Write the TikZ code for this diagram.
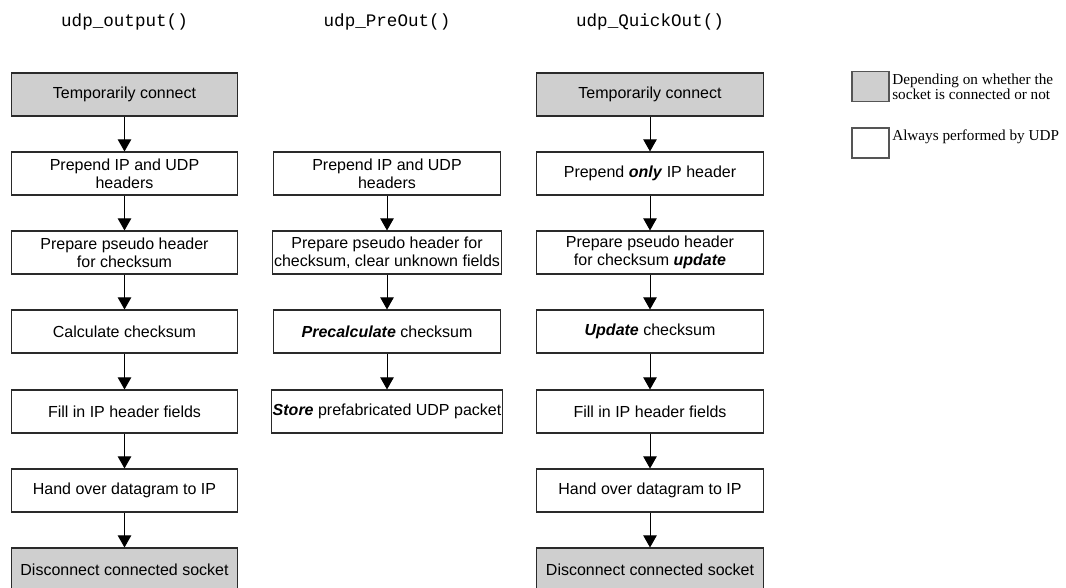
\documentclass[tikz,border=0pt]{standalone}
\usepackage{fontspec}
\setmainfont{Liberation Sans}
\newfontfamily\titlefont{Liberation Mono}
\newfontfamily\legfont{Liberation Serif}
\usetikzlibrary{arrows.meta}
\definecolor{boxgray}{HTML}{CFCFCF}
\definecolor{edgegray}{HTML}{2A2A2A}
\tikzset{
  stepbox/.style={draw=edgegray, line width=0.8pt, fill=white, rectangle, minimum width=170pt, minimum height=32.25pt, inner sep=1pt, align=center, font=\fontsize{12}{13.5}\selectfont},
  graybox/.style={stepbox, fill=boxgray},
  flow/.style={line width=0.75pt, -{Triangle[width=10pt,length=9pt]}},
  title/.style={font=\titlefont\fontsize{13.2}{15}\selectfont, inner sep=0pt},
  legbox/.style={draw=edgegray!80, line width=0.8pt, rectangle, minimum width=27.75pt, minimum height=22pt, inner sep=0pt},
  legtext/.style={font=\legfont\fontsize{11.4}{10}\selectfont, align=left, inner sep=0pt, anchor=north west}
}
\begin{document}
\begin{tikzpicture}[x=0.75pt, y=-0.75pt]
\useasboundingbox (0,0) rectangle (1066,587);
\clip (0,0) rectangle (1066,587);
% titles
\node[title] (t1) at (124.5,22) {udp\_output()};
\node[title] (t2) at (387,22) {udp\_PreOut()};
\node[title] (t3) at (650,22) {udp\_QuickOut()};
% column 1
\node[graybox] (a1) at (124.5,94.5) {Temporarily connect};
\node[stepbox] (a2) at (124.5,173.5) {Prepend IP and UDP\\headers};
\node[stepbox] (a3) at (124.5,252.5) {Prepare pseudo header\\for checksum};
\node[stepbox] (a4) at (124.5,331.5) {Calculate checksum};
\node[stepbox] (a5) at (124.5,411.5) {Fill in IP header fields};
\node[stepbox] (a6) at (124.5,490.5) {Hand over datagram to IP};
\node[graybox] (a7) at (124.5,569.5) {Disconnect connected socket};
% column 2
\node[stepbox] (b2) at (387,173.5) {Prepend IP and UDP\\headers};
\node[stepbox] (b3) at (387,252.5) {Prepare pseudo header for\\checksum, clear unknown fields};
\node[stepbox] (b4) at (387,331.5) {\textbf{\textit{Precalculate}} checksum};
\node[stepbox] (b5) at (387,411.5) {\textbf{\textit{Store}} prefabricated UDP packet};
% column 3
\node[graybox] (c1) at (650,94.5) {Temporarily connect};
\node[stepbox] (c2) at (650,173.5) {Prepend \textbf{\textit{only}} IP header};
\node[stepbox] (c3) at (650,252.5) {Prepare pseudo header\\for checksum \textbf{\textit{update}}};
\node[stepbox] (c4) at (650,331.5) {\textbf{\textit{Update}} checksum};
\node[stepbox] (c5) at (650,411.5) {Fill in IP header fields};
\node[stepbox] (c6) at (650,490.5) {Hand over datagram to IP};
\node[graybox] (c7) at (650,569.5) {Disconnect connected socket};
% arrows
\foreach \p/\q in {a1/a2,a2/a3,a3/a4,a4/a5,a5/a6,a6/a7,b2/b3,b3/b4,b4/b5,c1/c2,c2/c3,c3/c4,c4/c5,c5/c6,c6/c7}
  \draw[flow] (\p.south) -- (\q.north);
% legend
\node[legbox, fill=boxgray] (lg) at (870.5,86.5) {};
\node[legbox, fill=white, minimum height=22.5pt] (lw) at (870.5,143) {};
\node[legtext] (lgt) at (892,74) {Depending on whether the\\socket is connected or not};
\node[legtext] (lwt) at (892,130) {Always performed by UDP};
\end{tikzpicture}
\end{document}
